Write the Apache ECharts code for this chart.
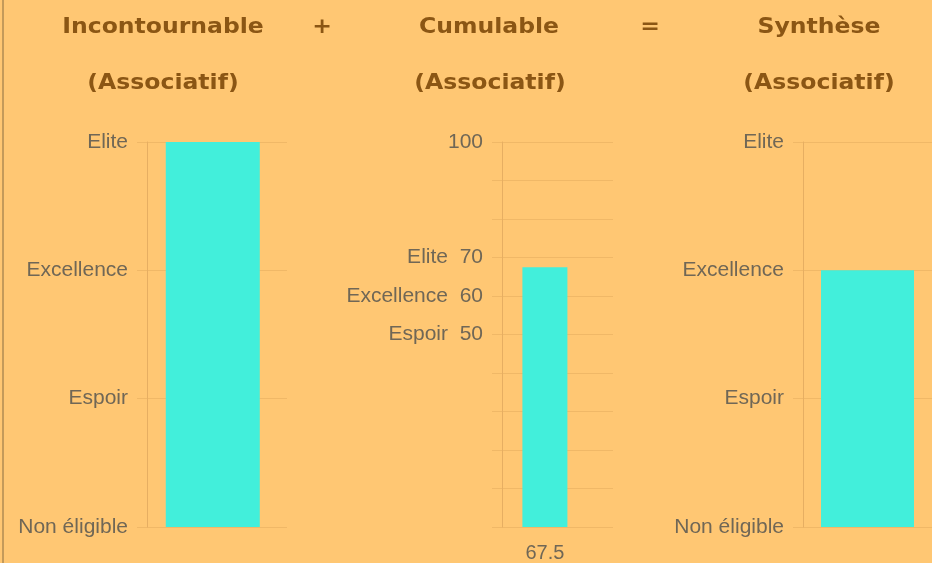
<!DOCTYPE html>
<html>
<head>
<meta charset="utf-8">
<script src="https://cdn.jsdelivr.net/npm/echarts@6/dist/echarts.min.js"></script>
<style>
html,body{margin:0;padding:0;background:#FFC773;}
#c{width:932px;height:563px;}
</style>
</head>
<body>
<div id="c"></div>
<script>
// ---- data ----
const panelTitles = ['Incontournable', 'Cumulable', 'Synthèse'];
const panelSubtitle = '(Associatif)';
const operators = ['+', '='];
const levelLabels = ['Non éligible', 'Espoir', 'Excellence', 'Elite'];
const incontournableValues = [3];
const cumulableValues = [67.5];
const syntheseValues = [2];
const cumulableCategories = ['67.5'];
const cumulTickValues = [50, 60, 70, 100];
const cumulTickNames = ['Espoir', 'Excellence', 'Elite', ''];

// ---- styles ----
const bg = '#FFC773';
const titleColor = '#8B5614';
const labelColor = '#706756';
const gridColor = '#F0B867';
const axisColor = '#E6AE62';
const barColor = '#42EFDB';
const labelFont = 'Liberation Sans';

function yAxisBase(gridIndex) {
  return {
    gridIndex: gridIndex,
    type: 'value',
    axisLine: {show: true, lineStyle: {color: axisColor, width: 1}},
    axisTick: {show: true, length: 10, lineStyle: {color: gridColor}},
    splitLine: {show: true, lineStyle: {color: gridColor, width: 1}},
    axisLabel: {color: labelColor, fontSize: 21, fontFamily: labelFont, margin: 19}
  };
}
function xAxisBase(gridIndex, data) {
  return {
    gridIndex: gridIndex,
    type: 'category',
    data: data,
    axisLine: {show: false},
    axisTick: {show: false},
    axisLabel: {show: false}
  };
}

const y0 = yAxisBase(0);
Object.assign(y0, {min: 0, max: 3, interval: 1});
y0.axisLabel.formatter = v => levelLabels[v] || '';
const y1 = yAxisBase(1);
Object.assign(y1, {min: 0, max: 100, interval: 10});
y1.axisLabel.formatter = v => {
  const i = cumulTickValues.indexOf(v);
  if (i < 0) return '';
  return cumulTickNames[i] ? cumulTickNames[i] + '  ' + v : String(v);
};
const y2 = yAxisBase(2);
Object.assign(y2, {min: 0, max: 3, interval: 1});
y2.axisLabel.formatter = v => levelLabels[v] || '';

const titleFont = 'bold 21px "DejaVu Sans"';
function txt(text, x, y) {
  return {type: 'text', x: x, y: y, scaleX: 1.12,
    style: {text: text, font: titleFont, fill: titleColor, align: 'center', verticalAlign: 'middle'}};
}

const option = {
  backgroundColor: bg,
  animation: false,
  graphic: [
    {type: 'rect', shape: {x: 2, y: 0, width: 2, height: 563}, style: {fill: '#C49A5A'}},
    txt(panelTitles[0], 163, 28),
    txt(operators[0], 322, 28),
    txt(panelTitles[1], 489, 28),
    txt(operators[1], 650, 28),
    txt(panelTitles[2], 819, 28),
    txt(panelSubtitle, 163, 84),
    txt(panelSubtitle, 490, 84),
    txt(panelSubtitle, 819, 84)
  ],
  grid: [
    {left: 147, top: 142, width: 140, height: 385},
    {left: 502, top: 142, width: 111, height: 385},
    {left: 803, top: 142, width: 135, height: 385}
  ],
  xAxis: [
    xAxisBase(0, ['']),
    xAxisBase(1, cumulableCategories),
    xAxisBase(2, [''])
  ],
  yAxis: [y0, y1, y2],
  series: [
    {type: 'bar', xAxisIndex: 0, yAxisIndex: 0, data: incontournableValues, barWidth: 94, barGap: '-91%',
      itemStyle: {color: barColor}},
    {type: 'bar', xAxisIndex: 0, yAxisIndex: 0, data: ['-'], barWidth: 94, barGap: '-91%',
      itemStyle: {color: barColor}},
    {type: 'bar', xAxisIndex: 1, yAxisIndex: 1, data: cumulableValues, barWidth: 45, barGap: '-44%',
      itemStyle: {color: barColor},
      label: {show: true, position: 'bottom', distance: 16, color: labelColor, fontSize: 20, fontFamily: labelFont}},
    {type: 'bar', xAxisIndex: 1, yAxisIndex: 1, data: ['-'], barWidth: 45, barGap: '-44%',
      itemStyle: {color: barColor}},
    {type: 'bar', xAxisIndex: 2, yAxisIndex: 2, data: syntheseValues, barWidth: 93,
      itemStyle: {color: barColor}}
  ]
};

const chart = echarts.init(document.getElementById('c'));
chart.setOption(option);
</script>
</body>
</html>
